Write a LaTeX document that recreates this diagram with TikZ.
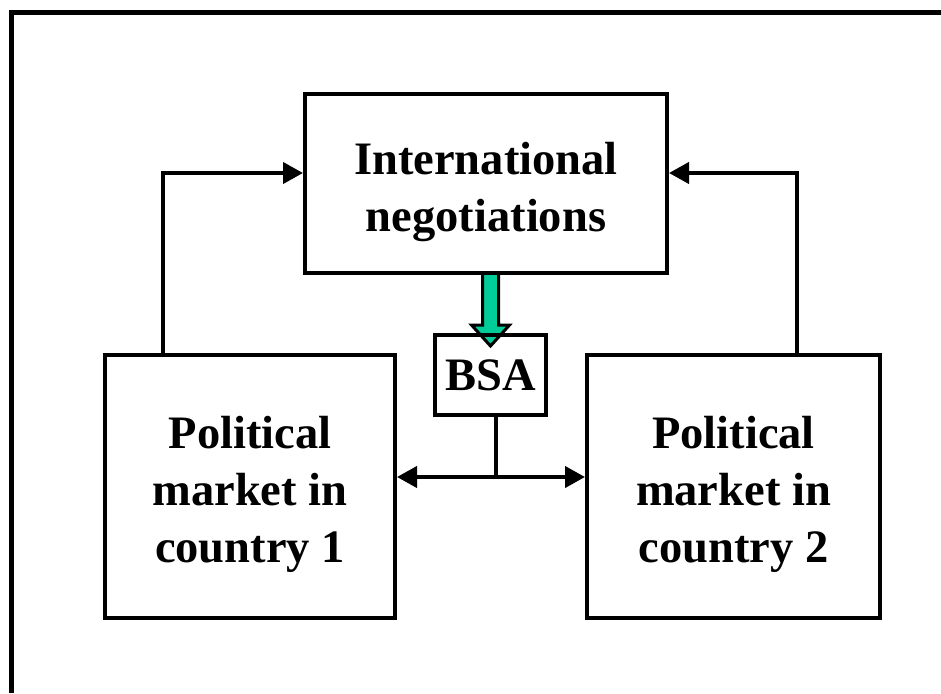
\documentclass[tikz,border=0pt]{standalone}
\usepackage{fontspec}
\setmainfont{Liberation Serif}
\usetikzlibrary{arrows.meta}
\definecolor{bsagreen}{RGB}{0,204,153}

\begin{document}
\begin{tikzpicture}[x=1pt, y=-1pt,
        box/.style={draw, line width=4pt, inner sep=0pt},
        txt/.style={align=center, font=\bfseries\fontsize{46.5}{57}\selectfont},
        link/.style={line width=4pt, -{Triangle[length=20pt,width=21pt]}},
        twoway/.style={line width=4pt, {Triangle[length=20pt,width=21pt]}-{Triangle[length=20pt,width=21pt]}}]

		\useasboundingbox (0,0) rectangle (941,693);
		\draw[line width=5pt] (941,12.5) -- (11.5,12.5) -- (11.5,693);

		% the green arrow goes under the boxes
		\draw[line width=3pt, fill=bsagreen] (482.5,273) -- (482.5,325) -- (471.5,325) -- (490.5,346) -- (509.5,325) -- (498.5,325) -- (498.5,273);

		\node[box, minimum width=362pt, minimum height=179pt] (neg) at (486,183.5) {};
		\node[box, minimum width=290pt, minimum height=263pt] (pm1) at (250,486.5) {};
		\node[box, minimum width=293pt, minimum height=263pt] (pm2) at (733.5,486.5) {};
		\node[box, txt, minimum width=111pt, minimum height=80pt] (bsa) at (490.5,375) {BSA};

		\node[txt] (negtxt) at (486,192) {International\\negotiations};
		\foreach \n / \x in {1/250, 2/733.5} {
		\node[txt] (pm\n txt) at (\x,494) {Political\\market in\\country \n};
		}

		\coordinate (c1) at (163,173);
		\coordinate (c2) at (797,173);
		\coordinate (mid) at (496,477);

		\draw[link] (pm1.north -| c1) |- (neg.west |- c1);
		\draw[link] (pm2.north -| c2) |- (neg.east |- c2);
		\draw[line width=4pt] (bsa.south -| mid) -- (mid);
		\draw[twoway] (mid -| pm1.east) -- (mid -| pm2.west);

	\end{tikzpicture}
\end{document}
